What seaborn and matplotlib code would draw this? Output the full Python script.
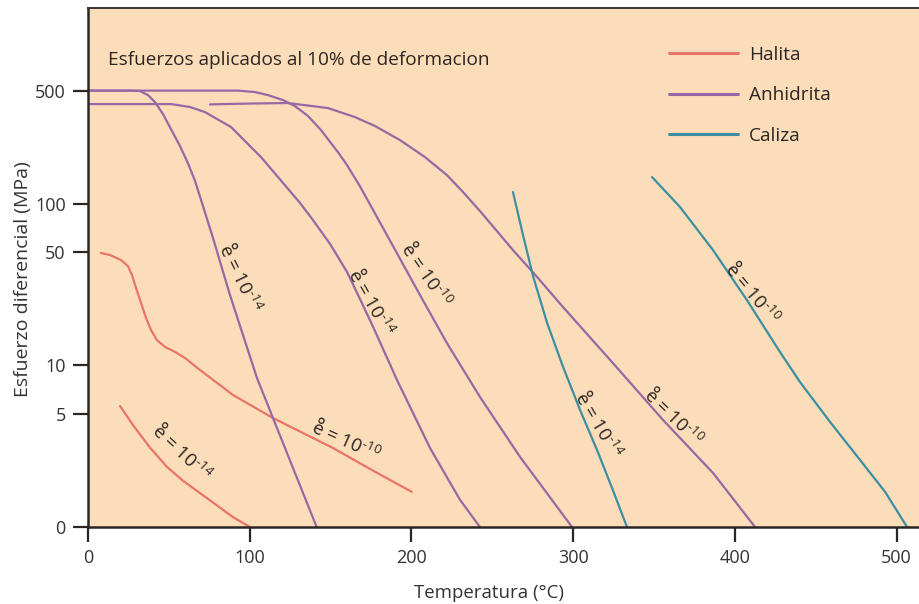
import numpy as np
import pandas as pd
import matplotlib
matplotlib.use("Agg")
import matplotlib.pyplot as plt
from matplotlib.lines import Line2D
from matplotlib.textpath import TextPath
from matplotlib.font_manager import FontProperties
from matplotlib.transforms import offset_copy
import seaborn as sns

# ---- differential stress (MPa) vs temperature (C) at 10% strain ----
halita_10_T = [8.0, 13.6, 20.4, 24.7, 27.2, 29.7, 32.8, 35.9, 39.0, 42.7, 47.6, 53.8, 60.0,
               69.3, 89.7, 114.4, 151.5, 175.6, 200.2]
halita_10_S = [49.5, 48.1, 44.8, 41.1, 36.2, 30.1, 24.3, 19.6, 16.5, 14.3, 13.0, 12.1, 11.1,
               9.35, 6.55, 4.72, 3.08, 2.25, 1.65]

halita_14_T = [19.8, 27.8, 38.3, 48.9, 58.8, 69.3, 89.7, 100.2]
halita_14_S = [5.6, 4.27, 3.1, 2.35, 1.93, 1.62, 1.15, 1.0]

anhid_14a_T = [0.0, 26.0, 32.2, 37.1, 41.4, 46.4, 51.3, 56.9, 61.8, 66.2, 71.7, 77.3, 87.8,
               104.5, 114.4, 128.0, 141.4]
anhid_14a_S = [500, 500, 497, 469, 425, 358, 289, 227, 178, 138, 92.6, 61.3, 27.2,
               8.35, 4.72, 2.16, 1.0]

anhid_14b_T = [0.0, 51.3, 63.1, 72.4, 88.4, 107.0, 121.8, 131.1, 139.1, 149.7, 160.2, 168.2,
               176.3, 191.1, 211.5, 230.1, 242.4]
anhid_14b_S = [413, 413, 396, 368, 298, 194, 130, 101, 79.2, 56.3, 37.8, 25.7,
               17.3, 8.11, 3.08, 1.47, 1.0]

anhid_10a_T = [0.0, 92.8, 103.3, 111.3, 120.6, 128.0, 136.1, 144.1, 154.6, 160.2, 168.2,
               176.3, 188.6, 205.3, 222.0, 242.4, 267.2, 299.3]
anhid_10a_S = [500, 500, 490, 469, 437, 401, 348, 285, 208, 173, 128,
               91.3, 54.7, 27.2, 13.7, 6.37, 2.71, 1.0]

anhid_10b_T = [75.4, 100.2, 123.7, 148.4, 165.1, 177.5, 193.0, 208.4, 222.0, 231.9, 242.4,
               262.8, 277.7, 293.8, 324.7, 355.6, 386.5, 412.5]
anhid_10b_S = [411, 416, 419, 390, 343, 302, 247, 194, 150, 118, 90.0,
               51.6, 35.2, 22.9, 10.3, 4.59, 2.16, 1.0]

caliza_14_T = [262.8, 269.0, 275.2, 283.9, 293.8, 304.3, 314.8, 324.1, 333.3]
caliza_14_S = [118, 63.9, 35.7, 18.3, 9.76, 5.29, 2.99, 1.74, 1.0]

caliza_10_T = [348.8, 366.1, 386.5, 407.5, 427.9, 440.3, 458.9, 477.4, 492.9, 506.5]
caliza_10_S = [146, 95.3, 51.6, 25.3, 12.1, 7.88, 4.46, 2.60, 1.65, 1.0]

minerals = ["Halita", "Anhidrita", "Caliza"]
colors = {"Halita": "#E8746A", "Anhidrita": "#9868A4", "Caliza": "#3C8FA2"}

curves = [
    ("Halita", "h10", halita_10_T, halita_10_S),
    ("Halita", "h14", halita_14_T, halita_14_S),
    ("Anhidrita", "a14a", anhid_14a_T, anhid_14a_S),
    ("Anhidrita", "a14b", anhid_14b_T, anhid_14b_S),
    ("Anhidrita", "a10a", anhid_10a_T, anhid_10a_S),
    ("Anhidrita", "a10b", anhid_10b_T, anhid_10b_S),
    ("Caliza", "c14", caliza_14_T, caliza_14_S),
    ("Caliza", "c10", caliza_10_T, caliza_10_S),
]

# strain-rate labels: (exponent, temperature, stress, rotation)
rate_labels = [
    ("14", 94.0, 34.7, -64),
    ("14", 175.0, 24.3, -60),
    ("10", 209.0, 36.2, -55),
    ("10", 159.5, 3.40, -24),
    ("14", 58.1, 2.87, -43),
    ("14", 315.4, 4.27, -59),
    ("10", 361.8, 4.80, -44),
    ("10", 410.6, 28.0, -50),
]

y_ticks = [1, 5, 10, 50, 100, 500]
y_tick_labels = ["0", "5", "10", "50", "100", "500"]
x_ticks = [0, 100, 200, 300, 400, 500]

rows = []
for mineral, cid, T, S in curves:
    for t, s in zip(T, S):
        rows.append({"Temperatura": t, "Esfuerzo": s, "Mineral": mineral, "Curva": cid})
df = pd.DataFrame(rows)

sns.set_theme(style="white")
font = "Open Sans"
plt.rcParams["font.family"] = [font, "DejaVu Sans"]
plt.rcParams["mathtext.fontset"] = "custom"
plt.rcParams["mathtext.rm"] = font
plt.rcParams["mathtext.it"] = font
plt.rcParams["mathtext.bf"] = font

ink = "#2b2623"
fig = plt.figure(figsize=(9.2, 6.04), dpi=100)
ax = fig.add_axes([88 / 920, 1 - 527 / 604, 1 - 88 / 920, (527 - 8) / 604])
ax.set_facecolor("#FCDDBA")

sns.lineplot(data=df, x="Temperatura", y="Esfuerzo", hue="Mineral", units="Curva",
             estimator=None, sort=False, palette=colors, linewidth=1.6,
             legend=False, ax=ax)

ax.set_yscale("log")
ax.set_xlim(0, 514.5)
ax.set_ylim(1, 1622)
ax.set_yticks(y_ticks)
ax.set_yticklabels(y_tick_labels)
ax.yaxis.set_minor_locator(matplotlib.ticker.NullLocator())
ax.set_xticks(x_ticks)
ax.set_xticklabels([str(v) for v in x_ticks])

ax.tick_params(axis="both", which="major", direction="out", length=11, width=1.6,
               color=ink, labelsize=13, labelcolor="#333333", pad=5, left=True, bottom=True)

for side in ["left", "bottom"]:
    ax.spines[side].set_color(ink)
    ax.spines[side].set_linewidth(1.8)
ax.spines["top"].set_color("#3a3431")
ax.spines["top"].set_linewidth(1.4)
ax.spines["right"].set_visible(False)

ax.set_xlabel("")
ax.set_ylabel("")
fig.text(489 / 920, 1 - 593 / 604, "Temperatura (°C)", ha="center", va="center",
         fontsize=13.4, color="#333333")
fig.text(23 / 920, 1 - 279 / 604, "Esfuerzo diferencial (MPa)", ha="center", va="center",
         rotation=90, fontsize=14, color="#333333")

ax.text(0.024, 0.90, "Esfuerzos aplicados al 10% de deformacion", transform=ax.transAxes,
        ha="left", va="center", fontsize=13.7, color=ink)

# strain-rate labels: "e = 10^-n" with a ring accent placed over the e
fs = 13.5
ring_fs = fs * 1.05
fp = FontProperties(family=font, size=fs)
e_ext = TextPath((0, 0), "e", size=fs, prop=fp).get_extents()
r_ext = TextPath((0, 0), "°", size=ring_fs, prop=fp).get_extents()
renderer = fig.canvas.get_renderer()
hyphen = "\u2010"
gap = 0.8

for exp, t, s, rot in rate_labels:
    label = "e = 10$^{" + hyphen + exp + "}$"
    probe = ax.text(0, 1, label, fontsize=fs, ha="left", va="baseline")
    w_pt = probe.get_window_extent(renderer).width * 72 / fig.dpi
    probe.remove()

    th = np.deg2rad(rot)
    u = np.array([np.cos(th), np.sin(th)])
    v = np.array([-np.sin(th), np.cos(th)])
    a0, b0 = -w_pt / 2, -0.36 * fs

    off = a0 * u + b0 * v
    ax.text(t, s, label, ha="left", va="baseline", rotation=rot, rotation_mode="anchor",
            fontsize=fs, color=ink,
            transform=offset_copy(ax.transData, fig=fig, x=off[0], y=off[1], units="points"))

    ra = a0 + (e_ext.x0 + e_ext.x1) / 2 - (r_ext.x0 + r_ext.x1) / 2
    rb = b0 + e_ext.y1 + gap - r_ext.y0
    off_r = ra * u + rb * v
    ax.text(t, s, "°", ha="left", va="baseline", rotation=rot, rotation_mode="anchor",
            fontsize=ring_fs, color=ink,
            transform=offset_copy(ax.transData, fig=fig, x=off_r[0], y=off_r[1], units="points"))

handles = [Line2D([0], [0], color=colors[m], linewidth=2.2) for m in minerals]
ax.legend(handles, minerals, loc="upper left", bbox_to_anchor=(0.687, 0.945),
          frameon=False, fontsize=13.7, handlelength=3.63, handletextpad=0.58,
          labelspacing=1.17, borderpad=0, labelcolor=ink)

fig.savefig("out.png", dpi=100, facecolor="white")
